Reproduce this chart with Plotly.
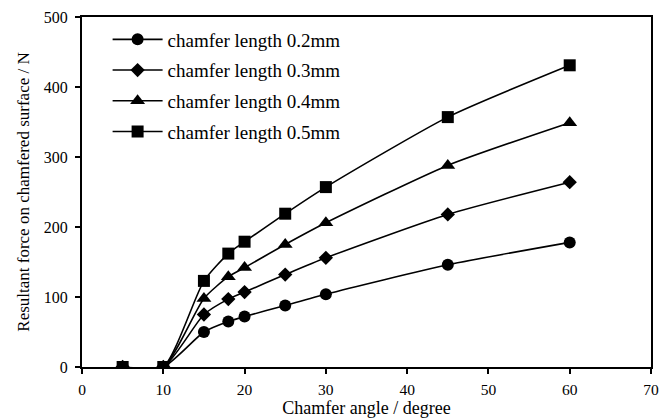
import plotly.graph_objects as go

angles = [5, 10, 15, 18, 20, 25, 30, 45, 60]
force_02 = [0, 0, 50, 65, 72, 88, 104, 146, 178]
force_03 = [0, 0, 75, 97, 107, 132, 156, 218, 264]
force_04 = [0, 0, 98, 129, 142, 175, 206, 288, 349]
force_05 = [0, 0, 123, 162, 179, 219, 257, 357, 431]
names = ["chamfer length 0.2mm", "chamfer length 0.3mm",
         "chamfer length 0.4mm", "chamfer length 0.5mm"]
symbols = ["circle", "diamond", "triangle-up", "square"]
sizes = [12, 11, 13, 12]

FONT = "Liberation Serif"
fig = go.Figure()
for i, (ys, nm) in enumerate(zip([force_02, force_03, force_04, force_05], names)):
    fig.add_trace(go.Scatter(
        x=angles, y=ys, name=nm, mode="lines+markers",
        line=dict(color="black", width=1.6, shape="spline", smoothing=0.6),
        marker=dict(symbol=symbols[i], size=sizes[i], color="black"),
        legendgroup=f"g{i}",
    ))

fig.update_layout(
    width=659, height=418,
    margin=dict(l=82, r=8, t=17, b=51),
    paper_bgcolor="white", plot_bgcolor="white",
    font=dict(family=FONT, size=16, color="black"),
    showlegend=True,
    legend=dict(x=0.045, y=0.99, xanchor="left", yanchor="top",
                bgcolor="rgba(0,0,0,0)", font=dict(family=FONT, size=19),
                tracegroupgap=3, itemwidth=50),
    xaxis=dict(range=[0, 70], dtick=10, showgrid=False, zeroline=False,
               showline=True, linecolor="black", linewidth=2, mirror=True,
               ticks="outside", ticklen=5, tickwidth=1.5, tickcolor="black",
               ticklabelstandoff=2, automargin=False,
               tickfont=dict(family=FONT, size=15.5),
               title=dict(text="Chamfer angle / degree", standoff=2,
                          font=dict(family=FONT, size=18))),
    yaxis=dict(range=[0, 500], dtick=100, showgrid=False, zeroline=False,
               showline=True, linecolor="black", linewidth=2, mirror=True,
               ticks="outside", ticklen=5, tickwidth=1.5, tickcolor="black",
               ticklabelstandoff=4, automargin=False,
               tickfont=dict(family=FONT, size=16),
               title=dict(text="Resultant force on chamfered surface / N", standoff=10,
                          font=dict(family=FONT, size=17))),
)
fig.write_html("out.html")
